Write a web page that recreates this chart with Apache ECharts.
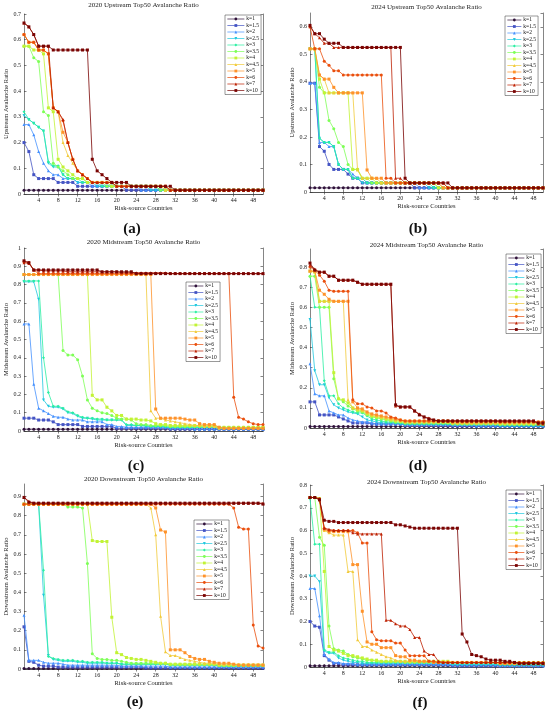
<!DOCTYPE html>
<html><head><meta charset="utf-8">
<script src="https://cdn.jsdelivr.net/npm/echarts@6/dist/echarts.min.js"></script>
<style>html,body{margin:0;padding:0;background:#fff}#c{width:550px;height:714px}</style>
</head><body><div id="c"></div>
<script>
const countries = [1,2,3,4,5,6,7,8,9,10,11,12,13,14,15,16,17,18,19,20,21,22,23,24,25,26,27,28,29,30,31,32,33,34,35,36,37,38,39,40,41,42,43,44,45,46,47,48,49,50];
const xTickLabels = [4,8,12,16,20,24,28,32,36,40,44,48];
const seriesNames = ['k=1','k=1.5','k=2','k=2.5','k=3','k=3.5','k=4','k=4.5','k=5','k=6','k=7','k=10'];

// (a) 2020 Upstream
const up2020 = [
[0.015,0.015,0.015,0.015,0.015,0.015,0.015,0.015,0.015,0.015,
 0.015,0.015,0.015,0.015,0.015,0.015,0.015,0.015,0.015,0.015,
 0.015,0.015,0.015,0.015,0.015,0.015,0.015,0.015,0.015,0.015,
 0.015,0.015,0.015,0.015,0.015,0.015,0.015,0.015,0.015,0.015,
 0.015,0.015,0.015,0.015,0.015,0.015,0.015,0.015,0.015,0.015],
[0.2,0.165,0.075,0.06,0.06,0.06,0.06,0.045,0.045,0.045,
 0.045,0.03,0.03,0.03,0.03,0.03,0.03,0.03,0.03,0.03,
 0.03,0.015,0.015,0.015,0.015,0.015,0.015,0.015,0.015,0.015,
 0.015,0.015,0.015,0.015,0.015,0.015,0.015,0.015,0.015,0.015,
 0.015,0.015,0.015,0.015,0.015,0.015,0.015,0.015,0.015,0.015],
[0.27,0.27,0.23,0.165,0.12,0.09,0.075,0.075,0.06,0.06,
 0.06,0.045,0.045,0.045,0.03,0.03,0.03,0.03,0.03,0.03,
 0.03,0.03,0.03,0.03,0.015,0.015,0.015,0.015,0.015,0.015,
 0.015,0.015,0.015,0.015,0.015,0.015,0.015,0.015,0.015,0.015,
 0.015,0.015,0.015,0.015,0.015,0.015,0.015,0.015,0.015,0.015],
[0.305,0.29,0.275,0.26,0.245,0.12,0.105,0.105,0.075,0.06,
 0.06,0.045,0.045,0.045,0.045,0.03,0.03,0.03,0.03,0.03,
 0.03,0.03,0.03,0.03,0.03,0.03,0.015,0.015,0.015,0.015,
 0.015,0.015,0.015,0.015,0.015,0.015,0.015,0.015,0.015,0.015,
 0.015,0.015,0.015,0.015,0.015,0.015,0.015,0.015,0.015,0.015],
[0.32,0.29,0.275,0.26,0.245,0.125,0.11,0.11,0.075,0.06,
 0.06,0.06,0.045,0.045,0.045,0.045,0.03,0.03,0.03,0.03,
 0.03,0.03,0.03,0.03,0.03,0.03,0.03,0.03,0.015,0.015,
 0.015,0.015,0.015,0.015,0.015,0.015,0.015,0.015,0.015,0.015,
 0.015,0.015,0.015,0.015,0.015,0.015,0.015,0.015,0.015,0.015],
[0.575,0.575,0.53,0.515,0.32,0.305,0.12,0.105,0.09,0.075,
 0.06,0.06,0.06,0.045,0.045,0.045,0.045,0.03,0.03,0.03,
 0.03,0.03,0.03,0.03,0.03,0.03,0.03,0.03,0.015,0.015,
 0.015,0.015,0.015,0.015,0.015,0.015,0.015,0.015,0.015,0.015,
 0.015,0.015,0.015,0.015,0.015,0.015,0.015,0.015,0.015,0.015],
[0.575,0.575,0.56,0.56,0.545,0.335,0.32,0.135,0.105,0.09,
 0.075,0.06,0.06,0.045,0.045,0.045,0.045,0.045,0.03,0.03,
 0.03,0.03,0.03,0.03,0.03,0.03,0.03,0.03,0.03,0.015,
 0.015,0.015,0.015,0.015,0.015,0.015,0.015,0.015,0.015,0.015,
 0.015,0.015,0.015,0.015,0.015,0.015,0.015,0.015,0.015,0.015],
[0.62,0.59,0.59,0.56,0.56,0.545,0.335,0.32,0.2,0.15,
 0.12,0.09,0.075,0.06,0.045,0.045,0.045,0.045,0.045,0.03,
 0.03,0.03,0.03,0.03,0.03,0.03,0.03,0.03,0.03,0.015,
 0.015,0.015,0.015,0.015,0.015,0.015,0.015,0.015,0.015,0.015,
 0.015,0.015,0.015,0.015,0.015,0.015,0.015,0.015,0.015,0.015],
[0.62,0.59,0.59,0.56,0.56,0.545,0.335,0.32,0.24,0.2,
 0.135,0.09,0.075,0.06,0.045,0.045,0.045,0.045,0.045,0.03,
 0.03,0.03,0.03,0.03,0.03,0.03,0.03,0.03,0.03,0.03,
 0.015,0.015,0.015,0.015,0.015,0.015,0.015,0.015,0.015,0.015,
 0.015,0.015,0.015,0.015,0.015,0.015,0.015,0.015,0.015,0.015],
[0.62,0.59,0.59,0.56,0.56,0.545,0.335,0.32,0.285,0.2,
 0.135,0.09,0.075,0.06,0.045,0.045,0.045,0.045,0.045,0.03,
 0.03,0.03,0.03,0.03,0.03,0.03,0.03,0.03,0.03,0.03,
 0.015,0.015,0.015,0.015,0.015,0.015,0.015,0.015,0.015,0.015,
 0.015,0.015,0.015,0.015,0.015,0.015,0.015,0.015,0.015,0.015],
[0.665,0.65,0.62,0.575,0.575,0.575,0.335,0.32,0.29,0.2,
 0.135,0.09,0.075,0.06,0.045,0.045,0.045,0.045,0.045,0.03,
 0.03,0.03,0.03,0.03,0.03,0.03,0.03,0.03,0.03,0.03,
 0.015,0.015,0.015,0.015,0.015,0.015,0.015,0.015,0.015,0.015,
 0.015,0.015,0.015,0.015,0.015,0.015,0.015,0.015,0.015,0.015],
[0.665,0.65,0.62,0.575,0.575,0.575,0.56,0.56,0.56,0.56,
 0.56,0.56,0.56,0.56,0.135,0.09,0.075,0.06,0.045,0.045,
 0.045,0.045,0.03,0.03,0.03,0.03,0.03,0.03,0.03,0.03,
 0.03,0.015,0.015,0.015,0.015,0.015,0.015,0.015,0.015,0.015,
 0.015,0.015,0.015,0.015,0.015,0.015,0.015,0.015,0.015,0.015]
];

// (b) 2024 Upstream
const up2024 = [
[0.015,0.015,0.015,0.015,0.015,0.015,0.015,0.015,0.015,0.015,
 0.015,0.015,0.015,0.015,0.015,0.015,0.015,0.015,0.015,0.015,
 0.015,0.015,0.015,0.015,0.015,0.015,0.015,0.015,0.015,0.015,
 0.015,0.015,0.015,0.015,0.015,0.015,0.015,0.015,0.015,0.015,
 0.015,0.015,0.015,0.015,0.015,0.015,0.015,0.015,0.015,0.015],
[0.395,0.395,0.165,0.148,0.1,0.082,0.082,0.082,0.065,0.05,
 0.05,0.033,0.033,0.033,0.033,0.033,0.033,0.033,0.033,0.033,
 0.033,0.033,0.015,0.015,0.015,0.015,0.015,0.015,0.015,0.015,
 0.015,0.015,0.015,0.015,0.015,0.015,0.015,0.015,0.015,0.015,
 0.015,0.015,0.015,0.015,0.015,0.015,0.015,0.015,0.015,0.015],
[0.395,0.395,0.18,0.18,0.165,0.165,0.1,0.082,0.082,0.065,
 0.05,0.05,0.033,0.033,0.033,0.033,0.033,0.033,0.033,0.033,
 0.033,0.033,0.033,0.015,0.015,0.015,0.015,0.015,0.015,0.015,
 0.015,0.015,0.015,0.015,0.015,0.015,0.015,0.015,0.015,0.015,
 0.015,0.015,0.015,0.015,0.015,0.015,0.015,0.015,0.015,0.015],
[0.52,0.52,0.195,0.18,0.18,0.165,0.1,0.082,0.082,0.05,
 0.05,0.033,0.033,0.033,0.033,0.033,0.033,0.033,0.033,0.033,
 0.033,0.033,0.033,0.033,0.033,0.015,0.015,0.015,0.015,0.015,
 0.015,0.015,0.015,0.015,0.015,0.015,0.015,0.015,0.015,0.015,
 0.015,0.015,0.015,0.015,0.015,0.015,0.015,0.015,0.015,0.015],
[0.52,0.52,0.195,0.18,0.18,0.165,0.1,0.082,0.082,0.05,
 0.05,0.05,0.033,0.033,0.033,0.033,0.033,0.033,0.033,0.033,
 0.033,0.033,0.033,0.033,0.033,0.033,0.015,0.015,0.015,0.015,
 0.015,0.015,0.015,0.015,0.015,0.015,0.015,0.015,0.015,0.015,
 0.015,0.015,0.015,0.015,0.015,0.015,0.015,0.015,0.015,0.015],
[0.52,0.52,0.38,0.36,0.26,0.23,0.18,0.165,0.1,0.082,
 0.082,0.05,0.05,0.033,0.033,0.033,0.033,0.033,0.033,0.033,
 0.033,0.033,0.033,0.033,0.033,0.033,0.033,0.015,0.015,0.015,
 0.015,0.015,0.015,0.015,0.015,0.015,0.015,0.015,0.015,0.015,
 0.015,0.015,0.015,0.015,0.015,0.015,0.015,0.015,0.015,0.015],
[0.52,0.52,0.41,0.36,0.36,0.36,0.36,0.36,0.36,0.082,
 0.082,0.05,0.05,0.05,0.033,0.033,0.033,0.033,0.033,0.033,
 0.033,0.033,0.033,0.033,0.033,0.033,0.033,0.015,0.015,0.015,
 0.015,0.015,0.015,0.015,0.015,0.015,0.015,0.015,0.015,0.015,
 0.015,0.015,0.015,0.015,0.015,0.015,0.015,0.015,0.015,0.015],
[0.52,0.52,0.425,0.41,0.36,0.36,0.36,0.36,0.36,0.36,
 0.08,0.05,0.05,0.05,0.05,0.033,0.033,0.033,0.033,0.033,
 0.033,0.033,0.033,0.033,0.033,0.033,0.033,0.033,0.015,0.015,
 0.015,0.015,0.015,0.015,0.015,0.015,0.015,0.015,0.015,0.015,
 0.015,0.015,0.015,0.015,0.015,0.015,0.015,0.015,0.015,0.015],
[0.52,0.52,0.425,0.41,0.41,0.38,0.36,0.36,0.36,0.36,
 0.36,0.36,0.08,0.05,0.05,0.05,0.033,0.033,0.033,0.033,
 0.033,0.033,0.033,0.033,0.033,0.033,0.033,0.033,0.015,0.015,
 0.015,0.015,0.015,0.015,0.015,0.015,0.015,0.015,0.015,0.015,
 0.015,0.015,0.015,0.015,0.015,0.015,0.015,0.015,0.015,0.015],
[0.6,0.52,0.52,0.475,0.46,0.44,0.44,0.425,0.425,0.425,
 0.425,0.425,0.425,0.425,0.425,0.425,0.05,0.05,0.033,0.033,
 0.033,0.033,0.033,0.033,0.033,0.033,0.033,0.033,0.033,0.015,
 0.015,0.015,0.015,0.015,0.015,0.015,0.015,0.015,0.015,0.015,
 0.015,0.015,0.015,0.015,0.015,0.015,0.015,0.015,0.015,0.015],
[0.6,0.575,0.56,0.54,0.54,0.525,0.525,0.525,0.525,0.525,
 0.525,0.525,0.525,0.525,0.525,0.525,0.525,0.525,0.05,0.05,
 0.033,0.033,0.033,0.033,0.033,0.033,0.033,0.033,0.033,0.015,
 0.015,0.015,0.015,0.015,0.015,0.015,0.015,0.015,0.015,0.015,
 0.015,0.015,0.015,0.015,0.015,0.015,0.015,0.015,0.015,0.015],
[0.605,0.575,0.575,0.555,0.54,0.54,0.54,0.525,0.525,0.525,
 0.525,0.525,0.525,0.525,0.525,0.525,0.525,0.525,0.525,0.525,
 0.05,0.033,0.033,0.033,0.033,0.033,0.033,0.033,0.033,0.033,
 0.015,0.015,0.015,0.015,0.015,0.015,0.015,0.015,0.015,0.015,
 0.015,0.015,0.015,0.015,0.015,0.015,0.015,0.015,0.015,0.015]
];

// (c) 2020 Midstream
const mid2020 = [
[0.01,0.01,0.01,0.01,0.01,0.01,0.01,0.01,0.01,0.01,
 0.01,0.01,0.01,0.01,0.01,0.01,0.01,0.01,0.01,0.01,
 0.01,0.01,0.01,0.01,0.01,0.01,0.01,0.01,0.01,0.01,
 0.01,0.01,0.01,0.01,0.01,0.01,0.01,0.01,0.01,0.01,
 0.01,0.01,0.01,0.01,0.01,0.01,0.01,0.01,0.01,0.01],
[0.07,0.07,0.07,0.06,0.06,0.06,0.05,0.035,0.035,0.035,
 0.035,0.035,0.025,0.025,0.025,0.025,0.025,0.025,0.025,0.015,
 0.015,0.015,0.015,0.015,0.015,0.015,0.015,0.015,0.015,0.015,
 0.01,0.01,0.01,0.01,0.01,0.01,0.01,0.01,0.01,0.01,
 0.01,0.01,0.01,0.01,0.01,0.01,0.01,0.01,0.01,0.01],
[0.585,0.585,0.255,0.125,0.11,0.095,0.08,0.075,0.075,0.065,
 0.06,0.06,0.06,0.05,0.05,0.05,0.05,0.035,0.035,0.025,
 0.025,0.02,0.02,0.02,0.02,0.02,0.02,0.02,0.02,0.02,
 0.015,0.015,0.015,0.015,0.015,0.01,0.01,0.01,0.01,0.01,
 0.01,0.01,0.01,0.01,0.01,0.01,0.01,0.01,0.01,0.01],
[0.815,0.815,0.815,0.72,0.17,0.135,0.13,0.13,0.12,0.1,
 0.095,0.08,0.07,0.07,0.065,0.06,0.06,0.06,0.06,0.06,
 0.06,0.03,0.03,0.03,0.03,0.025,0.025,0.025,0.025,0.02,
 0.02,0.02,0.02,0.02,0.02,0.02,0.02,0.02,0.02,0.02,
 0.015,0.015,0.015,0.015,0.015,0.015,0.015,0.015,0.015,0.015],
[0.82,0.82,0.82,0.82,0.4,0.21,0.135,0.135,0.125,0.105,
 0.1,0.085,0.075,0.07,0.07,0.065,0.065,0.06,0.06,0.06,
 0.06,0.035,0.035,0.03,0.03,0.03,0.025,0.025,0.025,0.025,
 0.02,0.02,0.02,0.02,0.02,0.02,0.02,0.02,0.02,0.02,
 0.015,0.015,0.015,0.015,0.015,0.015,0.015,0.015,0.015,0.015],
[0.855,0.855,0.855,0.855,0.855,0.855,0.855,0.855,0.44,0.415,
 0.415,0.39,0.3,0.17,0.125,0.11,0.1,0.095,0.085,0.07,
 0.065,0.065,0.06,0.04,0.035,0.035,0.03,0.03,0.03,0.03,
 0.025,0.025,0.025,0.025,0.025,0.025,0.025,0.025,0.025,0.025,
 0.02,0.02,0.02,0.02,0.02,0.02,0.02,0.02,0.02,0.02],
[0.855,0.855,0.855,0.855,0.855,0.855,0.855,0.855,0.855,0.855,
 0.855,0.855,0.855,0.855,0.195,0.17,0.17,0.13,0.11,0.085,
 0.085,0.065,0.065,0.065,0.06,0.06,0.055,0.04,0.035,0.035,
 0.03,0.03,0.03,0.03,0.03,0.03,0.03,0.03,0.03,0.03,
 0.02,0.02,0.02,0.02,0.02,0.02,0.02,0.02,0.02,0.02],
[0.855,0.855,0.855,0.855,0.855,0.855,0.855,0.855,0.855,0.855,
 0.855,0.855,0.855,0.855,0.855,0.855,0.855,0.855,0.855,0.855,
 0.855,0.855,0.855,0.855,0.855,0.855,0.11,0.07,0.07,0.06,
 0.055,0.05,0.045,0.04,0.035,0.03,0.03,0.025,0.025,0.025,
 0.015,0.015,0.015,0.015,0.015,0.015,0.015,0.015,0.015,0.015],
[0.855,0.855,0.855,0.855,0.855,0.855,0.855,0.855,0.855,0.855,
 0.855,0.855,0.855,0.855,0.855,0.855,0.855,0.855,0.855,0.855,
 0.855,0.855,0.855,0.855,0.855,0.855,0.855,0.12,0.07,0.07,
 0.07,0.07,0.07,0.065,0.06,0.06,0.04,0.035,0.035,0.035,
 0.02,0.015,0.015,0.015,0.015,0.015,0.015,0.015,0.015,0.015],
[0.925,0.92,0.88,0.86,0.86,0.86,0.86,0.86,0.86,0.86,
 0.86,0.86,0.86,0.86,0.86,0.86,0.86,0.86,0.86,0.86,
 0.86,0.86,0.86,0.86,0.86,0.86,0.86,0.86,0.86,0.86,
 0.86,0.86,0.86,0.86,0.86,0.86,0.86,0.86,0.86,0.86,
 0.86,0.86,0.86,0.185,0.075,0.065,0.05,0.04,0.035,0.035],
[0.92,0.915,0.88,0.88,0.875,0.875,0.875,0.875,0.875,0.87,
 0.87,0.87,0.87,0.87,0.87,0.87,0.87,0.87,0.87,0.87,
 0.865,0.865,0.865,0.865,0.865,0.865,0.865,0.865,0.865,0.865,
 0.86,0.86,0.86,0.86,0.86,0.86,0.86,0.86,0.86,0.86,
 0.86,0.86,0.86,0.86,0.86,0.86,0.86,0.86,0.86,0.86],
[0.93,0.92,0.88,0.88,0.88,0.88,0.88,0.88,0.88,0.88,
 0.88,0.88,0.88,0.88,0.88,0.88,0.87,0.87,0.87,0.87,
 0.87,0.87,0.87,0.86,0.86,0.86,0.86,0.86,0.86,0.86,
 0.86,0.86,0.86,0.86,0.86,0.86,0.86,0.86,0.86,0.86,
 0.86,0.86,0.86,0.86,0.86,0.86,0.86,0.86,0.86,0.86]
];

// (d) 2024 Midstream
const mid2024 = [
[0.008,0.008,0.008,0.008,0.008,0.008,0.008,0.008,0.008,0.008,
 0.008,0.008,0.008,0.008,0.008,0.008,0.008,0.008,0.008,0.008,
 0.008,0.008,0.008,0.008,0.008,0.008,0.008,0.008,0.008,0.008,
 0.008,0.008,0.008,0.008,0.008,0.008,0.008,0.008,0.008,0.008,
 0.008,0.008,0.008,0.008,0.008,0.008,0.008,0.008,0.008,0.008],
[0.13,0.13,0.065,0.065,0.065,0.065,0.055,0.045,0.035,0.025,
 0.025,0.025,0.025,0.02,0.02,0.02,0.02,0.02,0.02,0.02,
 0.015,0.015,0.015,0.015,0.015,0.015,0.015,0.015,0.015,0.015,
 0.01,0.01,0.01,0.01,0.01,0.01,0.01,0.01,0.01,0.01,
 0.01,0.01,0.01,0.01,0.01,0.01,0.01,0.01,0.01,0.01],
[0.32,0.17,0.16,0.16,0.085,0.075,0.065,0.065,0.05,0.04,
 0.035,0.03,0.03,0.025,0.02,0.02,0.02,0.02,0.02,0.02,
 0.015,0.015,0.015,0.015,0.015,0.015,0.015,0.015,0.015,0.015,
 0.015,0.015,0.015,0.015,0.015,0.01,0.01,0.01,0.01,0.01,
 0.01,0.01,0.01,0.01,0.01,0.01,0.01,0.01,0.01,0.01],
[0.54,0.285,0.215,0.215,0.15,0.115,0.1,0.09,0.08,0.075,
 0.07,0.055,0.04,0.035,0.03,0.025,0.025,0.025,0.025,0.02,
 0.02,0.02,0.02,0.02,0.02,0.02,0.02,0.02,0.02,0.02,
 0.015,0.015,0.015,0.015,0.015,0.015,0.015,0.015,0.015,0.015,
 0.01,0.01,0.01,0.01,0.01,0.01,0.01,0.01,0.01,0.01],
[0.755,0.6,0.6,0.235,0.16,0.16,0.12,0.1,0.09,0.08,
 0.075,0.075,0.06,0.045,0.04,0.035,0.03,0.03,0.025,0.025,
 0.02,0.02,0.02,0.02,0.02,0.02,0.02,0.02,0.02,0.02,
 0.02,0.02,0.02,0.02,0.02,0.02,0.02,0.02,0.02,0.02,
 0.015,0.015,0.015,0.015,0.015,0.015,0.015,0.015,0.015,0.015],
[0.755,0.755,0.6,0.6,0.6,0.245,0.145,0.13,0.11,0.095,
 0.085,0.08,0.065,0.055,0.05,0.045,0.04,0.035,0.03,0.03,
 0.025,0.025,0.025,0.025,0.025,0.025,0.025,0.025,0.025,0.025,
 0.02,0.02,0.02,0.02,0.02,0.02,0.02,0.02,0.02,0.02,
 0.02,0.02,0.02,0.02,0.02,0.02,0.02,0.02,0.02,0.02],
[0.78,0.775,0.63,0.63,0.63,0.275,0.145,0.14,0.125,0.1,
 0.09,0.085,0.07,0.06,0.055,0.05,0.045,0.04,0.035,0.035,
 0.03,0.03,0.03,0.03,0.03,0.03,0.03,0.03,0.03,0.03,
 0.025,0.025,0.025,0.025,0.025,0.025,0.025,0.025,0.025,0.025,
 0.02,0.02,0.02,0.02,0.02,0.02,0.02,0.02,0.02,0.02],
[0.78,0.78,0.63,0.63,0.63,0.63,0.63,0.63,0.14,0.1,
 0.095,0.09,0.075,0.065,0.06,0.055,0.05,0.045,0.04,0.035,
 0.03,0.03,0.03,0.03,0.03,0.03,0.03,0.03,0.03,0.03,
 0.025,0.025,0.025,0.025,0.025,0.025,0.025,0.025,0.025,0.025,
 0.025,0.025,0.025,0.025,0.025,0.025,0.025,0.025,0.025,0.025],
[0.78,0.78,0.685,0.665,0.64,0.63,0.63,0.63,0.63,0.13,
 0.1,0.095,0.08,0.07,0.065,0.06,0.055,0.05,0.045,0.04,
 0.035,0.035,0.035,0.035,0.035,0.035,0.035,0.035,0.035,0.035,
 0.03,0.03,0.03,0.03,0.03,0.03,0.03,0.03,0.03,0.03,
 0.03,0.03,0.03,0.03,0.03,0.03,0.03,0.03,0.03,0.03],
[0.8,0.785,0.76,0.73,0.685,0.68,0.68,0.68,0.68,0.14,
 0.12,0.12,0.105,0.1,0.085,0.085,0.075,0.055,0.05,0.04,
 0.035,0.035,0.035,0.035,0.035,0.035,0.035,0.035,0.035,0.035,
 0.035,0.035,0.035,0.035,0.035,0.035,0.035,0.035,0.035,0.035,
 0.03,0.03,0.03,0.03,0.03,0.03,0.03,0.03,0.03,0.03],
[0.81,0.79,0.775,0.775,0.755,0.755,0.735,0.735,0.735,0.735,
 0.725,0.715,0.715,0.715,0.715,0.715,0.715,0.715,0.11,0.105,
 0.105,0.105,0.085,0.07,0.055,0.05,0.04,0.035,0.035,0.035,
 0.035,0.035,0.035,0.035,0.035,0.035,0.035,0.035,0.035,0.035,
 0.035,0.035,0.035,0.035,0.035,0.035,0.035,0.035,0.02,0.02],
[0.82,0.785,0.775,0.775,0.755,0.755,0.735,0.735,0.735,0.735,
 0.725,0.715,0.715,0.715,0.715,0.715,0.715,0.715,0.115,0.105,
 0.105,0.105,0.085,0.065,0.055,0.045,0.04,0.035,0.035,0.035,
 0.035,0.035,0.035,0.035,0.035,0.035,0.035,0.035,0.035,0.035,
 0.035,0.035,0.035,0.035,0.035,0.035,0.035,0.035,0.025,0.025]
];

// (e) 2020 Downstream
const down2020 = [
[0.003,0.003,0.003,0.003,0.003,0.003,0.003,0.003,0.003,0.003,
 0.003,0.003,0.003,0.003,0.003,0.003,0.003,0.003,0.003,0.003,
 0.003,0.003,0.003,0.003,0.003,0.003,0.003,0.003,0.003,0.003,
 0.003,0.003,0.003,0.003,0.003,0.003,0.003,0.003,0.003,0.003,
 0.003,0.003,0.003,0.003,0.003,0.003,0.003,0.003,0.003,0.003],
[0.22,0.04,0.035,0.02,0.015,0.015,0.015,0.01,0.01,0.01,
 0.01,0.01,0.01,0.01,0.01,0.01,0.01,0.01,0.01,0.01,
 0.01,0.01,0.01,0.01,0.01,0.005,0.005,0.005,0.005,0.005,
 0.005,0.005,0.005,0.005,0.005,0.005,0.005,0.005,0.005,0.005,
 0.005,0.005,0.005,0.005,0.005,0.005,0.005,0.005,0.005,0.005],
[0.28,0.045,0.045,0.045,0.035,0.03,0.03,0.03,0.025,0.02,
 0.02,0.02,0.02,0.02,0.02,0.02,0.02,0.02,0.02,0.02,
 0.015,0.015,0.015,0.015,0.015,0.015,0.015,0.015,0.015,0.015,
 0.01,0.01,0.01,0.01,0.01,0.01,0.01,0.01,0.01,0.01,
 0.01,0.01,0.01,0.01,0.01,0.01,0.01,0.01,0.01,0.01],
[0.86,0.86,0.86,0.86,0.385,0.07,0.05,0.045,0.04,0.04,
 0.04,0.035,0.035,0.03,0.03,0.03,0.03,0.03,0.03,0.03,
 0.025,0.025,0.025,0.025,0.025,0.025,0.025,0.025,0.025,0.025,
 0.02,0.02,0.02,0.02,0.02,0.02,0.02,0.02,0.02,0.02,
 0.015,0.015,0.015,0.015,0.015,0.015,0.015,0.015,0.015,0.015],
[0.86,0.86,0.86,0.86,0.515,0.065,0.055,0.05,0.045,0.045,
 0.045,0.04,0.04,0.035,0.035,0.035,0.035,0.03,0.03,0.03,
 0.025,0.025,0.025,0.025,0.025,0.025,0.025,0.025,0.025,0.025,
 0.02,0.02,0.02,0.02,0.02,0.02,0.02,0.02,0.02,0.02,
 0.015,0.015,0.015,0.015,0.015,0.015,0.015,0.015,0.015,0.015],
[0.86,0.86,0.86,0.86,0.86,0.86,0.86,0.86,0.86,0.845,
 0.845,0.845,0.84,0.55,0.08,0.055,0.05,0.05,0.045,0.045,
 0.04,0.035,0.03,0.03,0.03,0.03,0.03,0.03,0.03,0.03,
 0.025,0.025,0.025,0.025,0.025,0.025,0.025,0.025,0.025,0.025,
 0.02,0.02,0.02,0.02,0.02,0.02,0.02,0.02,0.02,0.02],
[0.86,0.86,0.86,0.86,0.86,0.86,0.86,0.86,0.86,0.86,
 0.86,0.86,0.86,0.86,0.67,0.665,0.665,0.665,0.27,0.085,
 0.075,0.06,0.055,0.05,0.05,0.045,0.04,0.035,0.03,0.03,
 0.025,0.025,0.025,0.025,0.025,0.025,0.025,0.025,0.025,0.025,
 0.02,0.02,0.02,0.02,0.02,0.02,0.02,0.02,0.02,0.02],
[0.86,0.86,0.86,0.86,0.86,0.86,0.86,0.86,0.86,0.86,
 0.86,0.86,0.86,0.86,0.86,0.86,0.86,0.86,0.86,0.86,
 0.86,0.86,0.86,0.86,0.86,0.86,0.84,0.7,0.275,0.09,
 0.07,0.07,0.06,0.05,0.045,0.04,0.035,0.03,0.03,0.03,
 0.025,0.025,0.025,0.025,0.025,0.025,0.025,0.025,0.025,0.025],
[0.86,0.86,0.86,0.86,0.86,0.86,0.86,0.86,0.86,0.86,
 0.86,0.86,0.86,0.86,0.86,0.86,0.86,0.86,0.86,0.86,
 0.86,0.86,0.86,0.86,0.86,0.86,0.86,0.84,0.725,0.715,
 0.1,0.1,0.1,0.085,0.065,0.055,0.05,0.05,0.04,0.035,
 0.03,0.03,0.03,0.025,0.02,0.02,0.02,0.02,0.02,0.02],
[0.86,0.86,0.86,0.86,0.86,0.86,0.86,0.86,0.86,0.86,
 0.86,0.86,0.86,0.86,0.86,0.86,0.86,0.86,0.86,0.86,
 0.86,0.86,0.86,0.86,0.86,0.86,0.86,0.86,0.86,0.86,
 0.86,0.86,0.86,0.86,0.86,0.86,0.86,0.86,0.86,0.86,
 0.86,0.86,0.86,0.84,0.74,0.73,0.73,0.23,0.12,0.11],
[0.895,0.875,0.865,0.865,0.865,0.865,0.865,0.865,0.865,0.865,
 0.865,0.865,0.865,0.865,0.865,0.865,0.865,0.865,0.865,0.865,
 0.865,0.865,0.865,0.865,0.865,0.865,0.865,0.865,0.865,0.865,
 0.865,0.865,0.865,0.865,0.865,0.865,0.865,0.865,0.865,0.865,
 0.865,0.865,0.865,0.865,0.865,0.865,0.865,0.865,0.865,0.865],
[0.895,0.87,0.865,0.865,0.865,0.865,0.865,0.865,0.865,0.865,
 0.865,0.865,0.865,0.865,0.865,0.865,0.865,0.865,0.865,0.865,
 0.865,0.865,0.865,0.865,0.865,0.865,0.865,0.865,0.865,0.865,
 0.865,0.865,0.865,0.865,0.865,0.865,0.865,0.865,0.865,0.865,
 0.865,0.865,0.865,0.865,0.865,0.865,0.865,0.865,0.865,0.86]
];

// (f) 2024 Downstream
const down2024 = [
[0.005,0.005,0.005,0.005,0.005,0.005,0.005,0.005,0.005,0.005,
 0.005,0.005,0.005,0.005,0.005,0.005,0.005,0.005,0.005,0.005,
 0.005,0.005,0.005,0.005,0.005,0.005,0.005,0.005,0.005,0.005,
 0.005,0.005,0.005,0.005,0.005,0.005,0.005,0.005,0.005,0.005,
 0.005,0.005,0.005,0.005,0.005,0.005,0.005,0.005,0.005,0.005],
[0.2,0.18,0.175,0.05,0.03,0.015,0.015,0.01,0.01,0.01,
 0.01,0.01,0.01,0.01,0.01,0.01,0.01,0.01,0.01,0.01,
 0.01,0.01,0.01,0.01,0.01,0.01,0.01,0.01,0.01,0.01,
 0.005,0.005,0.005,0.005,0.005,0.005,0.005,0.005,0.005,0.005,
 0.005,0.005,0.005,0.005,0.005,0.005,0.005,0.005,0.005,0.005],
[0.345,0.345,0.225,0.055,0.035,0.02,0.02,0.015,0.015,0.015,
 0.01,0.01,0.01,0.01,0.01,0.01,0.01,0.01,0.01,0.01,
 0.01,0.01,0.01,0.01,0.01,0.01,0.01,0.01,0.01,0.01,
 0.01,0.01,0.01,0.01,0.01,0.01,0.01,0.01,0.01,0.01,
 0.005,0.005,0.005,0.005,0.005,0.005,0.005,0.005,0.005,0.005],
[0.4,0.4,0.375,0.07,0.06,0.06,0.04,0.03,0.025,0.02,
 0.02,0.015,0.015,0.015,0.015,0.015,0.015,0.015,0.015,0.015,
 0.015,0.015,0.015,0.015,0.015,0.015,0.015,0.015,0.015,0.015,
 0.01,0.01,0.01,0.01,0.01,0.01,0.01,0.01,0.01,0.01,
 0.01,0.01,0.01,0.01,0.01,0.01,0.01,0.01,0.01,0.01],
[0.74,0.54,0.54,0.075,0.065,0.065,0.05,0.04,0.035,0.03,
 0.025,0.025,0.02,0.02,0.02,0.02,0.02,0.02,0.02,0.02,
 0.02,0.02,0.02,0.02,0.02,0.02,0.02,0.02,0.02,0.02,
 0.015,0.015,0.015,0.015,0.015,0.015,0.015,0.015,0.015,0.015,
 0.01,0.01,0.01,0.01,0.01,0.01,0.01,0.01,0.01,0.01],
[0.745,0.745,0.57,0.535,0.18,0.08,0.075,0.07,0.055,0.045,
 0.04,0.035,0.03,0.03,0.025,0.025,0.025,0.025,0.025,0.025,
 0.02,0.02,0.02,0.02,0.02,0.02,0.02,0.02,0.02,0.02,
 0.02,0.02,0.02,0.02,0.02,0.02,0.02,0.02,0.02,0.02,
 0.015,0.015,0.015,0.015,0.015,0.015,0.015,0.015,0.015,0.015],
[0.745,0.745,0.74,0.42,0.09,0.075,0.07,0.06,0.05,0.05,
 0.045,0.04,0.035,0.03,0.03,0.025,0.025,0.025,0.025,0.025,
 0.025,0.025,0.025,0.025,0.025,0.025,0.025,0.025,0.025,0.025,
 0.02,0.02,0.02,0.02,0.02,0.02,0.02,0.02,0.02,0.02,
 0.02,0.02,0.02,0.02,0.02,0.02,0.02,0.02,0.02,0.02],
[0.745,0.745,0.735,0.6,0.59,0.58,0.58,0.58,0.42,0.42,
 0.12,0.09,0.09,0.075,0.065,0.055,0.045,0.04,0.03,0.025,
 0.025,0.025,0.025,0.025,0.025,0.025,0.025,0.025,0.025,0.025,
 0.02,0.02,0.02,0.02,0.02,0.02,0.02,0.02,0.02,0.02,
 0.015,0.015,0.015,0.015,0.015,0.015,0.015,0.015,0.015,0.015],
[0.745,0.745,0.735,0.605,0.595,0.595,0.595,0.595,0.595,0.45,
 0.45,0.245,0.11,0.1,0.1,0.085,0.085,0.085,0.05,0.045,
 0.045,0.03,0.03,0.025,0.025,0.025,0.02,0.02,0.02,0.02,
 0.02,0.02,0.02,0.02,0.02,0.02,0.02,0.02,0.02,0.02,
 0.015,0.015,0.015,0.015,0.015,0.015,0.015,0.015,0.015,0.015],
[0.745,0.745,0.74,0.61,0.6,0.6,0.6,0.6,0.6,0.6,
 0.59,0.545,0.545,0.155,0.12,0.115,0.115,0.115,0.105,0.105,
 0.075,0.05,0.05,0.05,0.05,0.025,0.025,0.02,0.02,0.02,
 0.02,0.02,0.02,0.02,0.02,0.02,0.02,0.02,0.02,0.02,
 0.02,0.02,0.02,0.02,0.02,0.02,0.02,0.02,0.02,0.02],
[0.745,0.745,0.74,0.61,0.605,0.6,0.6,0.6,0.6,0.59,
 0.585,0.585,0.585,0.585,0.585,0.585,0.205,0.205,0.19,0.18,
 0.18,0.165,0.13,0.13,0.07,0.055,0.055,0.025,0.02,0.02,
 0.02,0.02,0.02,0.02,0.02,0.02,0.02,0.02,0.02,0.02,
 0.02,0.02,0.02,0.02,0.02,0.02,0.02,0.02,0.02,0.02],
[0.745,0.745,0.735,0.645,0.64,0.64,0.635,0.635,0.635,0.635,
 0.635,0.635,0.635,0.635,0.635,0.635,0.635,0.635,0.625,0.625,
 0.62,0.615,0.61,0.61,0.61,0.61,0.61,0.61,0.61,0.61,
 0.61,0.61,0.145,0.11,0.055,0.05,0.045,0.035,0.03,0.03,
 0.03,0.025,0.025,0.02,0.015,0.015,0.015,0.015,0.015,0.015]
];

const colors = ['#30123b','#4454c4','#4490fe','#1fc8de','#29efa2','#7dff56','#c1f334','#f1ca3a','#fe922a','#ea4f0d','#be2102','#7a0403'];
const symbols = ['circle','rect','triangle','triangle','diamond','circle','rect','triangle','rect','circle','triangle','rect'];
const symRot = [0,0,0,180,0,0,0,0,0,0,0,0];
const FONT = "'Liberation Serif','Times New Roman',serif";

const panels = [
 {title:'2020 Upstream Top50 Avalanche Ratio', yName:'Upstream Avalanche Ratio', data:up2020, ymax:0.7, g:[24,14,239,180], lg:[225,15], lw:17, t:[143.5,5.5], cap:'(a)', c:[132,229]},
 {title:'2024 Upstream Top50 Avalanche Ratio', yName:'Upstream Avalanche Ratio', data:up2024, ymax:0.65, g:[310,13,233,179], lg:[505,16], lw:14, t:[426.5,7], cap:'(b)', c:[418,229]},
 {title:'2020 Midstream Top50 Avalanche Ratio', yName:'Midstream Avalanche Ratio', data:mid2020, ymax:1, g:[24,248,239,183], lg:[186,282], lw:15, t:[143.5,242], cap:'(c)', c:[136,466]},
 {title:'2024 Midstream Top50 Avalanche Ratio', yName:'Midstream Avalanche Ratio', data:mid2024, ymax:0.89, g:[310,249,233,179], lg:[506,254], lw:16, t:[426.5,245], cap:'(d)', c:[418,466]},
 {title:'2020 Downstream Top50 Avalanche Ratio', yName:'Downstream Avalanche Ratio', data:down2020, ymax:0.965, g:[24,484,239,185], lg:[194,520], lw:16, t:[143.5,479], cap:'(e)', c:[135,702]},
 {title:'2024 Downstream Top50 Avalanche Ratio', yName:'Downstream Avalanche Ratio', data:down2024, ymax:0.8, g:[310,485,233,182], lg:[506,490], lw:16, t:[426.5,482], cap:'(f)', c:[420,703]}
];

const tickInt = (idx) => xTickLabels.indexOf(countries[idx]) >= 0;
const lineSty = {color:'#333', width:0.6};

const option = {animation:false, backgroundColor:'#fff', grid:[], xAxis:[], yAxis:[], legend:[], series:[], graphic:[]};

panels.forEach((p, i) => {
  option.grid.push({left:p.g[0], top:p.g[1], width:p.g[2], height:p.g[3], containLabel:false});
  const tick = {show:true, inside:true, length:2.5, interval:tickInt, lineStyle:lineSty};
  option.xAxis.push({type:'category', gridIndex:i, data:countries, boundaryGap:false, position:'bottom',
    axisLine:{lineStyle:lineSty}, axisTick:tick,
    axisLabel:{interval:tickInt, fontSize:6, margin:3, color:'#222', fontFamily:FONT},
    splitLine:{show:false},
    name:'Risk-source Countries', nameLocation:'middle', nameGap:11,
    nameTextStyle:{fontSize:6.5, color:'#222', fontFamily:FONT}});
  option.xAxis.push({type:'category', gridIndex:i, data:countries, boundaryGap:false, position:'top',
    axisLine:{lineStyle:lineSty}, axisTick:tick, axisLabel:{show:false}, splitLine:{show:false}});
  const niceMax = Math.abs(p.ymax*10 - Math.round(p.ymax*10)) < 1e-6;
  const ytick = {show:true, inside:true, length:2.5, lineStyle:lineSty};
  option.yAxis.push({type:'value', gridIndex:i, min:0, max:p.ymax, interval:0.1, position:'left',
    axisLine:{show:true, lineStyle:lineSty}, axisTick:ytick,
    axisLabel:{fontSize:6, margin:3, color:'#222', fontFamily:FONT, showMaxLabel:niceMax},
    splitLine:{show:false},
    name:p.yName, nameLocation:'middle', nameGap:14,
    nameTextStyle:{fontSize:6.5, color:'#222', fontFamily:FONT}});
  option.yAxis.push({type:'value', gridIndex:i, min:0, max:p.ymax, interval:0.1, position:'right',
    axisLine:{show:true, lineStyle:lineSty}, axisTick:ytick, axisLabel:{show:false}, splitLine:{show:false}});
  p.data.forEach((row, j) => {
    option.series.push({type:'line', name:seriesNames[j], xAxisIndex:2*i, yAxisIndex:2*i, data:row,
      symbol:symbols[j], symbolRotate:symRot[j], symbolSize:3, showAllSymbol:true,
      lineStyle:{width:0.8, color:colors[j]}, itemStyle:{color:colors[j]},
      emphasis:{disabled:true}, silent:true, z:2+j*0.01});
  });
  option.legend.push({orient:'vertical', left:p.lg[0], top:p.lg[1], data:seriesNames,
    itemWidth:p.lw, itemHeight:3.5, itemGap:0.5, padding:[1,2,1,2],
    lineStyle:{width:0.7}, itemStyle:{borderWidth:0},
    backgroundColor:'#fff', borderColor:'#333', borderWidth:0.5, selectedMode:false,
    textStyle:{fontSize:5.5, lineHeight:5.5, color:'#111', fontFamily:FONT, padding:[0,0,0,-3]}});
  option.graphic.push({type:'text', x:p.t[0], y:p.t[1], style:{text:p.title, font:'7px '+FONT, fill:'#222', align:'center', verticalAlign:'middle', textAlign:'center', textVerticalAlign:'middle'}});
  option.graphic.push({type:'text', x:p.c[0], y:p.c[1], style:{text:p.cap, font:'bold 15px '+FONT, fill:'#111', align:'center', verticalAlign:'middle', textAlign:'center', textVerticalAlign:'middle'}});
});

const chart = echarts.init(document.getElementById('c'), null, {renderer:'canvas'});
chart.setOption(option);
</script>
</body></html>
